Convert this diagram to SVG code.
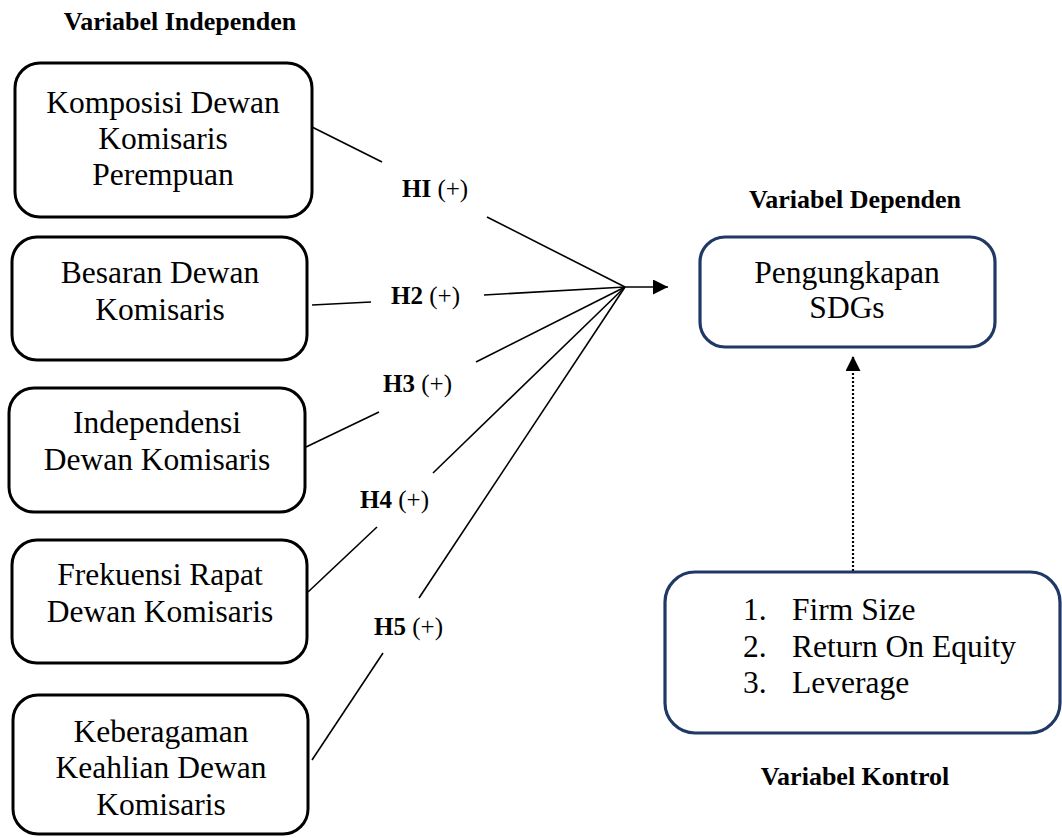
<svg xmlns="http://www.w3.org/2000/svg" width="1062" height="838" viewBox="0 0 1062 838">
<style>
.box{fill:#fff;stroke:#000;stroke-width:3}
.nbox{fill:#fff;stroke:#1F3864;stroke-width:3.2}
.t{font-family:"Liberation Serif","Times New Roman",serif;font-size:31.5px;fill:#000;text-anchor:middle}
.tl{font-family:"Liberation Serif","Times New Roman",serif;font-size:31.5px;fill:#000}
.h{font-family:"Liberation Serif","Times New Roman",serif;font-size:26px;font-weight:bold;fill:#000;text-anchor:middle}
.lab{font-family:"Liberation Serif","Times New Roman",serif;font-size:25px;fill:#000}
.lab .b{font-weight:bold}
.ln{stroke:#000;stroke-width:1.6;fill:none}
.dot{stroke:#000;stroke-width:2.2;fill:none;stroke-dasharray:2 2}
</style>
<defs>
<marker id="ah" markerWidth="16" markerHeight="16" refX="15" refY="7.5" orient="auto" markerUnits="userSpaceOnUse">
<path d="M0,0 L15,7.5 L0,15 Z" fill="#000"/>
</marker>
</defs>

<text class="h" x="180" y="30">Variabel Independen</text>
<text class="h" x="855" y="208">Variabel Dependen</text>
<text class="h" x="855" y="785">Variabel Kontrol</text>

<g id="connectors">
<line class="ln" x1="312" y1="127" x2="382" y2="162"/>
<line class="ln" x1="487" y1="217" x2="625" y2="287"/>
<line class="ln" x1="312" y1="305" x2="371" y2="302"/>
<line class="ln" x1="484" y1="295" x2="625" y2="287"/>
<line class="ln" x1="306" y1="447" x2="379" y2="412"/>
<line class="ln" x1="476" y1="362" x2="625" y2="287"/>
<line class="ln" x1="308" y1="592" x2="377" y2="527"/>
<line class="ln" x1="433" y1="473" x2="625" y2="287"/>
<line class="ln" x1="312" y1="760" x2="383" y2="653"/>
<line class="ln" x1="419" y1="598" x2="625" y2="287"/>
<line class="ln" x1="624" y1="287" x2="668" y2="287" marker-end="url(#ah)"/>
<line class="dot" x1="853" y1="571" x2="853" y2="356" marker-end="url(#ah)"/>
<text class="lab" x="402" y="197"><tspan class="b">HI</tspan> (+)</text>
<text class="lab" x="391" y="304"><tspan class="b">H2</tspan> (+)</text>
<text class="lab" x="383" y="392"><tspan class="b">H3</tspan> (+)</text>
<text class="lab" x="360" y="508"><tspan class="b">H4</tspan> (+)</text>
<text class="lab" x="374" y="635"><tspan class="b">H5</tspan> (+)</text>
</g>

<g id="x1">
<rect class="box" x="15" y="63" width="297" height="154" rx="25"/>
<text class="t" x="163" y="113">Komposisi Dewan</text>
<text class="t" x="163" y="149">Komisaris</text>
<text class="t" x="163" y="185">Perempuan</text>
</g>
<g id="x2">
<rect class="box" x="12" y="237" width="295" height="123" rx="25"/>
<text class="t" x="160" y="283">Besaran Dewan</text>
<text class="t" x="160" y="320">Komisaris</text>
</g>
<g id="x3">
<rect class="box" x="9" y="388" width="296" height="124" rx="25"/>
<text class="t" x="157" y="433">Independensi</text>
<text class="t" x="157" y="470">Dewan Komisaris</text>
</g>
<g id="x4">
<rect class="box" x="12" y="540" width="295" height="123" rx="25"/>
<text class="t" x="160" y="585">Frekuensi Rapat</text>
<text class="t" x="160" y="622">Dewan Komisaris</text>
</g>
<g id="x5">
<rect class="box" x="13" y="695" width="295" height="139" rx="25"/>
<text class="t" x="161" y="742">Keberagaman</text>
<text class="t" x="161" y="778">Keahlian Dewan</text>
<text class="t" x="161" y="815">Komisaris</text>
</g>
<g id="y">
<rect class="nbox" x="700" y="237" width="295" height="110" rx="25"/>
<text class="t" x="847" y="283">Pengungkapan</text>
<text class="t" x="847" y="318">SDGs</text>
</g>
<g id="control">
<rect class="nbox" x="665" y="572" width="395" height="161" rx="30"/>
<text class="tl" x="743" y="620">1.</text>
<text class="tl" x="792" y="620">Firm Size</text>
<text class="tl" x="743" y="657">2.</text>
<text class="tl" x="792" y="657">Return On Equity</text>
<text class="tl" x="743" y="693">3.</text>
<text class="tl" x="792" y="693">Leverage</text>
</g>
</svg>
